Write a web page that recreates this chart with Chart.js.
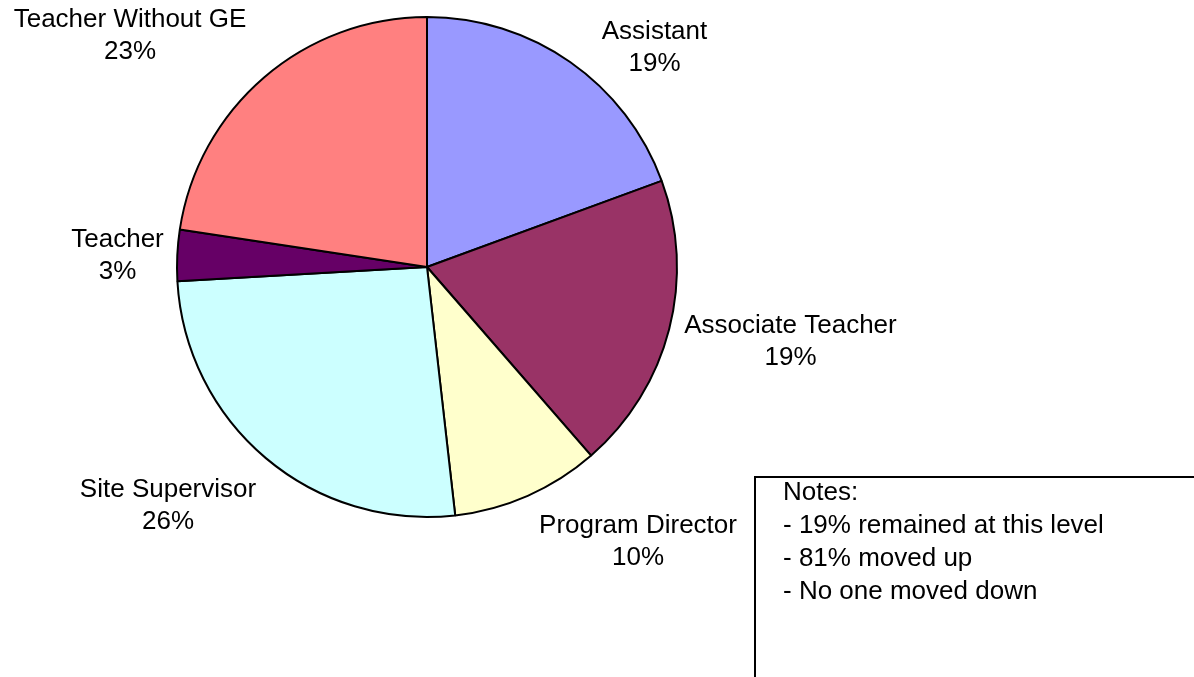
<!DOCTYPE html>
<html lang="en">
<head>
    <meta charset="UTF-8">
    <script src="https://cdn.jsdelivr.net/npm/chart.js"></script>
    <title>Pie</title>
    <style>
        body { margin: 0; background: #fff; overflow: hidden; }
        .wrap { position: relative; width: 1194px; height: 677px; }
        .notes-box {
            position: absolute; left: 754px; top: 476px; width: 600px; height: 300px;
            border-left: 2px solid #000; border-top: 2px solid #000;
        }
        .notes-text {
            position: absolute; left: 783px; top: 475px;
            font: 26px "Liberation Sans", Arial, sans-serif; line-height: 33px; color: #000;
        }
    </style>
</head>
<body>
    <div class="wrap">
        <canvas id="myChart" width="1194" height="677"></canvas>
        <div class="notes-box"></div>
        <div class="notes-text">
            Notes:<br>
            - 19% remained at this level<br>
            - 81% moved up<br>
            - No one moved down
        </div>
    </div>

<script>
    const categorias = ['Assistant', 'Associate Teacher', 'Program Director', 'Site Supervisor', 'Teacher', 'Teacher Without GE'];
    const valores = [19.4, 19.2, 9.6, 25.9, 3.3, 22.6];
    const cores = ['#9999FF', '#993366', '#FFFFCC', '#CCFFFF', '#660066', '#FF8080'];

    // where each label sits, as [dx, dy] of first baseline in units of radius
    const posRotulos = [
        [0.91, -0.912],
        [1.454, 0.264],
        [0.844, 1.064],
        [-1.036, 0.92],
        [-1.238, -0.08],
        [-1.188, -0.96]
    ];

    const rotulos = {
        id: 'rotulos',
        afterDraw(chart) {
            const arc = chart.getDatasetMeta(0).data[0];
            const r = arc.outerRadius;
            const total = valores.reduce((a, b) => a + b, 0);
            const ctx = chart.ctx;
            ctx.save();
            ctx.font = '26px "Liberation Sans", Arial, sans-serif';
            ctx.fillStyle = '#000';
            ctx.textAlign = 'center';
            ctx.textBaseline = 'alphabetic';
            for (var i = 0; i < categorias.length; i++) {
                var x = arc.x + posRotulos[i][0] * r;
                var y = arc.y + posRotulos[i][1] * r;
                ctx.fillText(categorias[i], x, y);
                ctx.fillText(Math.round(valores[i] / total * 100) + '%', x, y + 32);
            }
            ctx.restore();
        }
    };

    const config = {
        type: 'pie',
        data: {
            labels: categorias,
            datasets: [{
                data: valores,
                backgroundColor: cores,
                borderColor: '#000',
                borderWidth: 2
            }]
        },
        options: {
            responsive: false,
            animation: false,
            layout: { padding: { left: 176, right: 516, top: 16, bottom: 159 } },
            plugins: {
                legend: { display: false },
                tooltip: { enabled: false }
            }
        },
        plugins: [rotulos]
    };

    const myChart = new Chart(document.getElementById('myChart'), config);
</script>
</body>
</html>
